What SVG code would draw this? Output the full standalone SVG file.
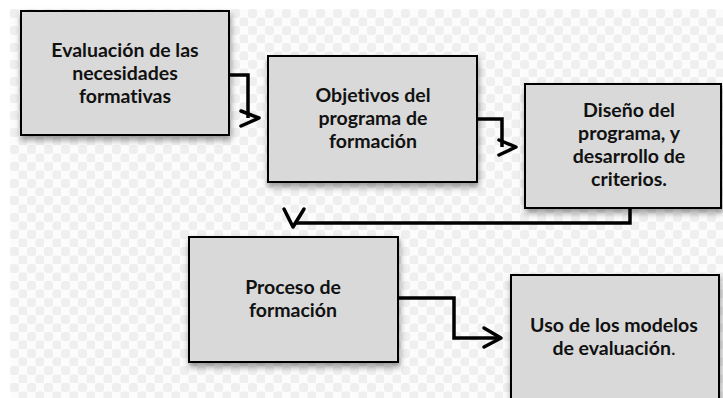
<svg xmlns="http://www.w3.org/2000/svg" width="723" height="398" viewBox="0 0 723 398">
<defs>
<pattern id="bg" x="10" y="9" width="17" height="17" patternUnits="userSpaceOnUse">
<rect width="17" height="17" fill="#fcfcfc"/>
<rect x="0" y="0" width="9" height="9" rx="3" fill="#efefef"/>
<rect x="8.5" y="8.5" width="9" height="9" rx="3" fill="#efefef"/>
</pattern>
<filter id="sh" x="-10%" y="-10%" width="125%" height="135%">
<feDropShadow dx="1" dy="4" stdDeviation="3" flood-color="#000" flood-opacity="0.4"/>
</filter>
<style>
.box{fill:#d9d9d9;stroke:#000;stroke-width:2;filter:url(#sh)}
.t{font-family:Lato,"Open Sans","Liberation Sans",sans-serif;font-weight:bold;font-size:19.5px;fill:#111;text-anchor:middle;font-variant-ligatures:none}
.c{fill:none;stroke:#000;stroke-width:3.5;stroke-linejoin:miter}
.a{fill:none;stroke:#000;stroke-width:3.5;stroke-linecap:round;stroke-linejoin:round}
</style>
</defs>
<rect width="723" height="398" fill="#fff"/>
<rect x="10" y="9" width="713" height="389" fill="url(#bg)"/>

<g id="connectors">
<path class="c" d="M229,75 H248 V118"/>
<path class="a" d="M241,111 L259,118 L241,126"/>
<path class="c" d="M477,119 H502 V147"/>
<path class="a" d="M499,140 L516,147 L499,155"/>
<path class="c" d="M630,208 V223 H296"/>
<path class="a" d="M284,209 L293,227 L304,209"/>
<path class="c" d="M398,298 H454 V338 H500"/>
<path class="a" d="M484,328 L501,338 L484,347"/>
</g>

<g id="n1">
<rect class="box" x="21" y="11" width="208" height="124"/>
<text class="t" x="125" y="57">Evaluación de las</text>
<text class="t" x="125" y="80">necesidades</text>
<text class="t" x="125" y="103">formativas</text>
</g>
<g id="n2">
<rect class="box" x="268" y="56" width="209" height="126"/>
<text class="t" x="373" y="102">Objetivos del</text>
<text class="t" x="373" y="125">programa de</text>
<text class="t" x="373" y="148">formación</text>
</g>
<g id="n3">
<rect class="box" x="525" y="84" width="196" height="124"/>
<text class="t" x="629" y="117">Diseño del</text>
<text class="t" x="629" y="140">programa, y</text>
<text class="t" x="629" y="163">desarrollo de</text>
<text class="t" x="629" y="186">criterios.</text>
</g>
<g id="n4">
<rect class="box" x="189" y="237" width="209" height="125"/>
<text class="t" x="293" y="294">Proceso de</text>
<text class="t" x="293" y="317">formación</text>
</g>
<g id="n5">
<rect class="box" x="511" y="275" width="208" height="130"/>
<text class="t" x="614" y="332">Uso de los modelos</text>
<text class="t" x="614" y="355">de evaluación<tspan font-weight="normal">.</tspan></text>
</g>
</svg>
